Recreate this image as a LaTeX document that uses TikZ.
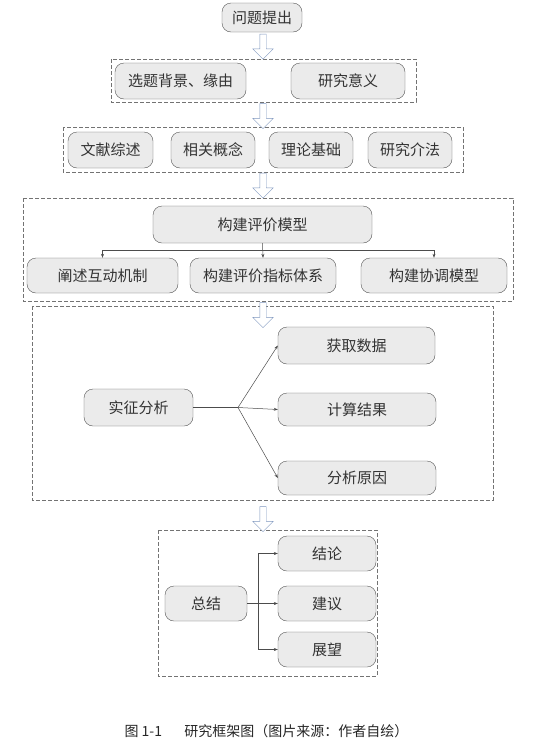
\documentclass[tikz,border=0pt]{standalone}
\usepackage{fontspec}
\setmainfont{Noto Sans CJK SC}
\usepackage{tikz}
\usetikzlibrary{arrows.meta}
\usetikzlibrary{shapes.arrows}
\definecolor{boxfill}{RGB}{235,235,235}
\definecolor{boxline}{RGB}{85,85,85}
\definecolor{arrowline}{RGB}{125,150,190}

\begin{document}
\begin{tikzpicture}[x=1pt,y=-1pt,
    box/.style={draw=boxline,fill=boxfill,rounded corners=9pt,inner sep=0pt,
                text=black!80,font=\fontsize{15pt}{17pt}\selectfont},
    group/.style={draw=black!55,dash pattern=on 4pt off 2pt},
    bigarrow/.style={single arrow,draw=arrowline,fill=white,shape border rotate=270,
                inner sep=3pt,minimum height=25pt,single arrow head extend=7pt},
    link/.style={draw=black!70,line width=0.5pt},
    tip/.style={-{Stealth[length=4pt,width=3pt]}}]
  \useasboundingbox (0,0) rectangle (533,745);
  % dashed groups
  \draw[group] (111,59) rectangle (416,102);
  \draw[group] (63,127) rectangle (463,172);
  \draw[group] (23,198) rectangle (513,301);
  \draw[group] (32,306) rectangle (493,500);
  \draw[group] (158,530) rectangle (377,676);
  % steps
  \node[box,minimum width=80pt,minimum height=29pt]  (tc) at (262,17.5)  {问题提出};
  \node[box,minimum width=131pt,minimum height=36pt] (xt) at (180.5,81)  {选题背景、缘由};
  \node[box,minimum width=114pt,minimum height=36pt] (yy) at (348,81)    {研究意义};
  \node[box,minimum width=85pt,minimum height=36pt]  (wx) at (110.5,150) {文献综述};
  \node[box,minimum width=84pt,minimum height=36pt]  (xg) at (213,150)   {相关概念};
  \node[box,minimum width=84pt,minimum height=36pt]  (ll) at (311,150)   {理论基础};
  \node[box,minimum width=84pt,minimum height=36pt]  (ff) at (410,150)   {研究介法};
  \node[box,minimum width=219pt,minimum height=37pt] (cm) at (262.5,224.5) {构建评价模型};
  \node[box,minimum width=151pt,minimum height=35pt] (c1) at (102.5,275.5) {阐述互动机制};
  \node[box,minimum width=146pt,minimum height=35pt] (c2) at (263,275.5)   {构建评价指标体系};
  \node[box,minimum width=146pt,minimum height=35pt] (c3) at (434,275.5)   {构建协调模型};
  \node[box,minimum width=109pt,minimum height=37pt] (sz) at (138.5,407.5) {实征分析};
  \node[box,minimum width=157pt,minimum height=37pt] (hq) at (356.5,345.5) {获取数据};
  \node[box,minimum width=158pt,minimum height=33pt] (js) at (357,409.5)   {计算结果};
  \node[box,minimum width=158pt,minimum height=34pt] (fx) at (357,478)     {分析原因};
  \node[box,minimum width=82pt,minimum height=35pt]  (zj) at (206,603.5)   {总结};
  \node[box,minimum width=98pt,minimum height=35pt]  (jl) at (327,553.5)   {结论};
  \node[box,minimum width=98pt,minimum height=35pt]  (jy) at (327,603.5)   {建议};
  \node[box,minimum width=98pt,minimum height=35pt]  (zw) at (327,649.5)   {展望};
  % hollow arrows between groups
  \node[bigarrow] (a1) at (263,45)    {};
  \node[bigarrow] (a2) at (263,114.5) {};
  \node[bigarrow] (a3) at (263,184)   {};
  \node[bigarrow] (a4) at (263,313.5) {};
  \node[bigarrow] (a5) at (263,517.5) {};
  % links
  \draw[link,tip] (cm.south) -- (c2.north);
  \draw[link,tip] (cm.south) ++(0,7) -| (c1.north);
  \draw[link,tip] (cm.south) ++(0,7) -| (c3.north);
  \coordinate (szfork) at (238,407.5);
  \draw[link] (sz.east) -- (szfork);
  \draw[link,tip] (szfork) -- (hq.west);
  \draw[link,tip] (szfork) -- (js.west);
  \draw[link,tip] (szfork) -- (fx.west);
  \coordinate (zjfork) at (258,603.5);
  \draw[link] (zj.east) -- (zjfork);
  \draw[link,tip] (zjfork) |- (jl.west);
  \draw[link,tip] (zjfork) -- (jy.west);
  \draw[link,tip] (zjfork) |- (zw.west);
  % caption
  \node[font=\fontsize{14pt}{16pt}\selectfont,text=black!85] (cap) at (266.5,731) {图~1-1\hspace{1.6em}研究框架图（图片来源：作者自绘）};
\end{tikzpicture}
\end{document}
